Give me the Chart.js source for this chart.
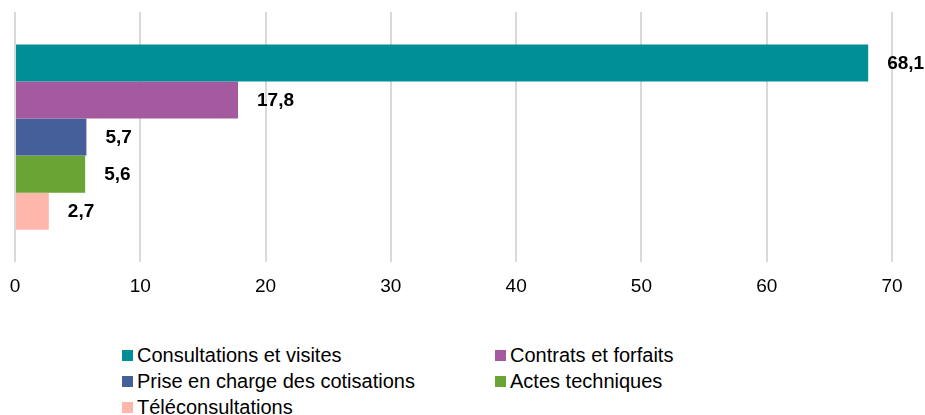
<!DOCTYPE html>
<html>
<head>
<meta charset="utf-8">
<script src="https://cdn.jsdelivr.net/npm/chart.js@4/dist/chart.umd.min.js"></script>
<style>
  html, body { margin: 0; padding: 0; background: #fff; }
  body { width: 925px; height: 415px; position: relative; overflow: hidden; font-family: "Liberation Sans", Arial, sans-serif; }
  #c { position: absolute; left: 0; top: 0; }
  #legend { position: absolute; left: 122px; top: 344px; display: grid; grid-template-columns: 373px 300px; row-gap: 3px; }
  .item { display: flex; align-items: center; font-size: 20px; line-height: 23px; color: #000; white-space: nowrap; }
  .box { width: 11px; height: 11px; margin-right: 4px; flex: none; }
</style>
</head>
<body>
<canvas id="c" width="925" height="299"></canvas>
<div id="legend"></div>
<script>
const categories = ['Total'];
const seriesNames = ['Consultations et visites', 'Contrats et forfaits', 'Prise en charge des cotisations', 'Actes techniques', 'Téléconsultations'];
const seriesValues = [68.1, 17.8, 5.7, 5.6, 2.7];
const seriesColors = ['#008F96', '#A5599E', '#455F9A', '#6AA434', '#FFB7AC'];
const xTicks = [0, 10, 20, 30, 40, 50, 60, 70];

const fmt = v => v.toFixed(1).replace('.', ',');

const labelPlugin = {
  id: 'valueLabels',
  afterDatasetsDraw(chart) {
    const ctx = chart.ctx;
    ctx.save();
    ctx.font = 'bold 19px "Liberation Sans", Arial, sans-serif';
    ctx.fillStyle = '#000';
    ctx.textAlign = 'left';
    ctx.textBaseline = 'middle';
    chart.data.datasets.forEach((ds, i) => {
      const meta = chart.getDatasetMeta(i);
      meta.data.forEach((bar, j) => {
        ctx.fillText(fmt(ds.data[j]), bar.x + 19, bar.y + 1);
      });
    });
    ctx.restore();
  }
};

const chart = new Chart(document.getElementById('c'), {
  type: 'bar',
  data: {
    labels: categories,
    datasets: seriesNames.map((name, i) => ({
      label: name,
      data: [seriesValues[i]],
      backgroundColor: seriesColors[i],
      borderWidth: 0,
      categoryPercentage: 0.74,
      barPercentage: 1
    }))
  },
  options: {
    indexAxis: 'y',
    responsive: false,
    animation: false,
    devicePixelRatio: 1,
    layout: { padding: { top: 12, left: 15, right: 33, bottom: 0 } },
    plugins: { legend: { display: false }, tooltip: { enabled: false } },
    scales: {
      x: {
        min: 0, max: 70,
        afterBuildTicks: axis => { axis.ticks = xTicks.map(v => ({ value: v })); },
        grid: { color: '#d9d9d9', lineWidth: 2, drawTicks: true, tickLength: 12, tickColor: 'rgba(0,0,0,0)' },
        border: { display: false },
        ticks: { color: '#000', font: { size: 19, family: '"Liberation Sans", Arial, sans-serif' }, padding: 1, maxRotation: 0 }
      },
      y: { display: false }
    }
  },
  plugins: [labelPlugin]
});

const legend = document.getElementById('legend');
chart.data.datasets.forEach(ds => {
  const it = document.createElement('div');
  it.className = 'item';
  const b = document.createElement('span');
  b.className = 'box';
  b.style.background = ds.backgroundColor;
  const t = document.createElement('span');
  t.textContent = ds.label;
  it.appendChild(b); it.appendChild(t);
  legend.appendChild(it);
});
</script>
</body>
</html>
